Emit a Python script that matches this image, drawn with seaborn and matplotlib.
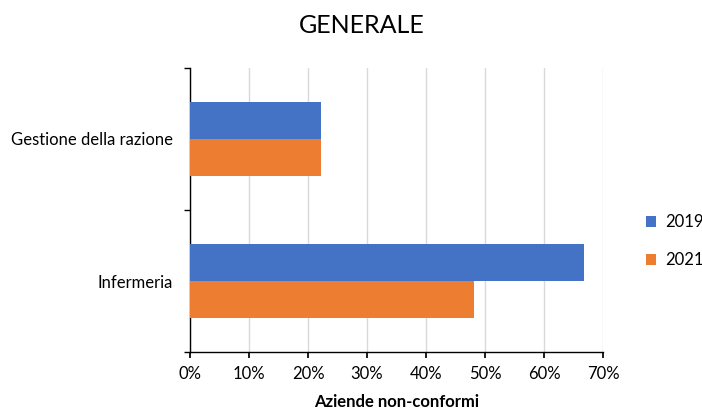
import numpy as np
import pandas as pd
import matplotlib
matplotlib.use('Agg')
import matplotlib.pyplot as plt
from matplotlib.ticker import PercentFormatter, FixedLocator
import seaborn as sns

categories = ['Gestione della razione', 'Infermeria']
years = ['2019', '2021']
values_2019 = [22.2, 66.7]
values_2021 = [22.2, 48.1]

df = pd.DataFrame({
    'Categoria': categories * 2,
    'Anno': [years[0]] * 2 + [years[1]] * 2,
    'Valore': values_2019 + values_2021,
})

sns.set_theme(style='white')
plt.rcParams['font.family'] = ['Lato', 'DejaVu Sans']
plt.rcParams['text.color'] = 'black'
plt.rcParams['xtick.color'] = 'black'
plt.rcParams['ytick.color'] = 'black'
plt.rcParams['axes.labelcolor'] = 'black'

fig = plt.figure(figsize=(7.02, 4.12), dpi=100)
ax = fig.add_axes([0.2707, 0.1456, 0.5883, 0.6894])

sns.barplot(data=df, y='Categoria', x='Valore', hue='Anno', orient='h',
            palette=['#4472C4', '#ED7D31'], width=0.52, gap=0,
            saturation=1, linewidth=0, ax=ax, zorder=3)

ax.set_xlim(0, 70)
ax.set_xticks(np.arange(0, 71, 10))
ax.xaxis.set_major_formatter(PercentFormatter(decimals=0))
ax.grid(axis='x', color='#d9d9d9', linewidth=1, zorder=0)
ax.set_ylim(1.5, -0.5)

sns.despine(ax=ax, top=True, right=True)
for s in ['left', 'bottom']:
    ax.spines[s].set_color('black')
    ax.spines[s].set_linewidth(1)

ax.tick_params(axis='x', which='major', bottom=True, length=4, color='black',
               labelsize=12, pad=6)
ax.tick_params(axis='y', which='major', left=False, labelsize=12, pad=6)
ax.yaxis.set_minor_locator(FixedLocator([-0.5, 0.5, 1.5]))
ax.tick_params(axis='y', which='minor', left=True, length=4, color='black')

ax.set_ylabel('')
ax.set_xlabel('Aziende non-conformi', fontsize=12, fontweight='bold', labelpad=9)

fig.suptitle('GENERALE', fontsize=18, x=0.515, y=0.965)

ax.legend(loc='center left', bbox_to_anchor=(1.075, 0.39), frameon=False,
          fontsize=12, handlelength=0.65, handleheight=0.65, labelspacing=1.3,
          handletextpad=0.5, borderpad=0.2, title=None)

fig.savefig('out.png', dpi=100)
